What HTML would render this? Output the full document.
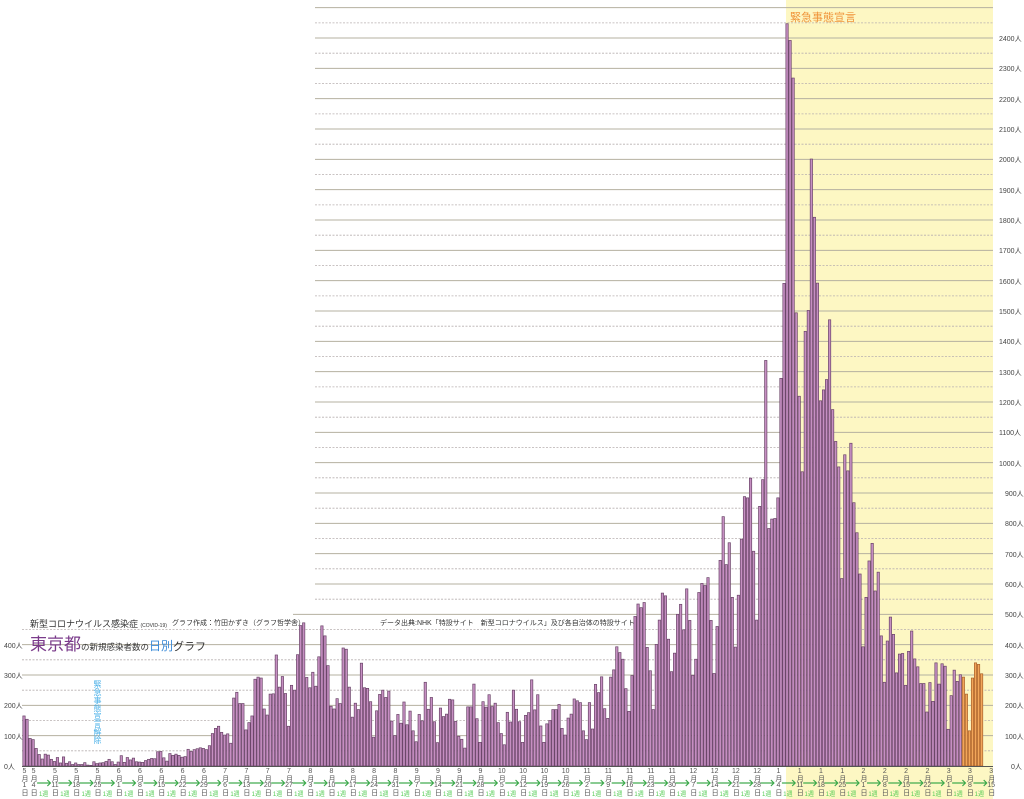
<!DOCTYPE html>
<html><head><meta charset="utf-8">
<style>
html,body{margin:0;padding:0;background:#fff;}
#w{position:relative;width:1024px;height:799px;overflow:hidden;font-family:"Liberation Sans","Noto Sans CJK JP",sans-serif;}
svg{position:absolute;left:0;top:0;}
.yl{position:absolute;font-size:7px;color:#444;white-space:nowrap;}
.d{position:absolute;top:768px;writing-mode:vertical-rl;text-orientation:upright;font-size:7px;line-height:8px;color:#555;transform:translateX(-50%);letter-spacing:0px;}
.d b{font-weight:normal;text-combine-upright:all;}
#wk{position:absolute;left:33px;top:789px;display:flex;}
#wk i{font-style:normal;width:21.28px;text-align:center;font-size:6px;color:#5c5;white-space:nowrap;}
.t{position:absolute;white-space:nowrap;}
</style></head><body><div id="w">
<svg id="s" width="1024" height="799"></svg>

<div class="t" style="left:30px;top:617px;font-size:9px;color:#333;">新型コロナウイルス感染症 <span style="font-size:5px">(COVID-19)</span></div>
<div class="t" style="left:172px;top:618px;font-size:7px;color:#333;">グラフ作成：竹田かずき（グラフ哲学舎）</div>
<div class="t" style="left:380px;top:618px;font-size:7px;color:#333;">データ出典:NHK「特設サイト　新型コロナウイルス」及び各自治体の特設サイト</div>
<div class="t" style="left:30px;top:630px;font-size:17px;color:#7a3a8a;">東京都<span style="font-size:8.5px;color:#333">の新規感染者数の</span><span style="font-size:12px;color:#3a8ad8">日別</span><span style="font-size:11px;color:#333">グラフ</span></div>
<div class="t" style="left:93px;top:680px;font-size:8px;line-height:8px;color:#4ab0e8;writing-mode:vertical-rl;text-orientation:upright;">緊急事態宣言解除</div>
<div class="t" style="left:790px;top:9px;font-size:11px;color:#f0943a;">緊急事態宣言</div>

<div class="yl" style="left:4px;top:762px">0人</div>
<div class="yl" style="left:4px;top:732px">100人</div>
<div class="yl" style="left:4px;top:701px">200人</div>
<div class="yl" style="left:4px;top:671px">300人</div>
<div class="yl" style="left:4px;top:641px">400人</div>

<div class="yl" style="left:1011px;top:762px">0人</div>
<div class="yl" style="left:1005px;top:732px">100人</div>
<div class="yl" style="left:1005px;top:701px">200人</div>
<div class="yl" style="left:1005px;top:671px">300人</div>
<div class="yl" style="left:1005px;top:641px">400人</div>
<div class="yl" style="left:1005px;top:610px">500人</div>
<div class="yl" style="left:1005px;top:580px">600人</div>
<div class="yl" style="left:1005px;top:550px">700人</div>
<div class="yl" style="left:1005px;top:519px">800人</div>
<div class="yl" style="left:1005px;top:489px">900人</div>
<div class="yl" style="left:999px;top:459px">1000人</div>
<div class="yl" style="left:999px;top:428px">1100人</div>
<div class="yl" style="left:999px;top:398px">1200人</div>
<div class="yl" style="left:999px;top:368px">1300人</div>
<div class="yl" style="left:999px;top:337px">1400人</div>
<div class="yl" style="left:999px;top:307px">1500人</div>
<div class="yl" style="left:999px;top:277px">1600人</div>
<div class="yl" style="left:999px;top:246px">1700人</div>
<div class="yl" style="left:999px;top:216px">1800人</div>
<div class="yl" style="left:999px;top:186px">1900人</div>
<div class="yl" style="left:999px;top:155px">2000人</div>
<div class="yl" style="left:999px;top:125px">2100人</div>
<div class="yl" style="left:999px;top:95px">2200人</div>
<div class="yl" style="left:999px;top:64px">2300人</div>
<div class="yl" style="left:999px;top:34px">2400人</div>

<div class="d" style="left:24px">5月<b>1</b>日</div>
<div class="d" style="left:33.1px">5月<b>4</b>日</div>
<div class="d" style="left:54.4px">5月<b>11</b>日</div>
<div class="d" style="left:75.7px">5月<b>18</b>日</div>
<div class="d" style="left:97px">5月<b>25</b>日</div>
<div class="d" style="left:118.2px">6月<b>1</b>日</div>
<div class="d" style="left:139.5px">6月<b>8</b>日</div>
<div class="d" style="left:160.8px">6月<b>15</b>日</div>
<div class="d" style="left:182.1px">6月<b>22</b>日</div>
<div class="d" style="left:203.4px">6月<b>29</b>日</div>
<div class="d" style="left:224.6px">7月<b>6</b>日</div>
<div class="d" style="left:245.9px">7月<b>13</b>日</div>
<div class="d" style="left:267.2px">7月<b>20</b>日</div>
<div class="d" style="left:288.5px">7月<b>27</b>日</div>
<div class="d" style="left:309.8px">8月<b>3</b>日</div>
<div class="d" style="left:331px">8月<b>10</b>日</div>
<div class="d" style="left:352.3px">8月<b>17</b>日</div>
<div class="d" style="left:373.6px">8月<b>24</b>日</div>
<div class="d" style="left:394.9px">8月<b>31</b>日</div>
<div class="d" style="left:416.2px">9月<b>7</b>日</div>
<div class="d" style="left:437.4px">9月<b>14</b>日</div>
<div class="d" style="left:458.7px">9月<b>21</b>日</div>
<div class="d" style="left:480px">9月<b>28</b>日</div>
<div class="d" style="left:501.3px"><b>10</b>月<b>5</b>日</div>
<div class="d" style="left:522.6px"><b>10</b>月<b>12</b>日</div>
<div class="d" style="left:543.8px"><b>10</b>月<b>19</b>日</div>
<div class="d" style="left:565.1px"><b>10</b>月<b>26</b>日</div>
<div class="d" style="left:586.4px"><b>11</b>月<b>2</b>日</div>
<div class="d" style="left:607.7px"><b>11</b>月<b>9</b>日</div>
<div class="d" style="left:629px"><b>11</b>月<b>16</b>日</div>
<div class="d" style="left:650.2px"><b>11</b>月<b>23</b>日</div>
<div class="d" style="left:671.5px"><b>11</b>月<b>30</b>日</div>
<div class="d" style="left:692.8px"><b>12</b>月<b>7</b>日</div>
<div class="d" style="left:714.1px"><b>12</b>月<b>14</b>日</div>
<div class="d" style="left:735.4px"><b>12</b>月<b>21</b>日</div>
<div class="d" style="left:756.6px"><b>12</b>月<b>28</b>日</div>
<div class="d" style="left:777.9px">1月<b>4</b>日</div>
<div class="d" style="left:799.2px">1月<b>11</b>日</div>
<div class="d" style="left:820.5px">1月<b>18</b>日</div>
<div class="d" style="left:841.8px">1月<b>25</b>日</div>
<div class="d" style="left:863px">2月<b>1</b>日</div>
<div class="d" style="left:884.3px">2月<b>8</b>日</div>
<div class="d" style="left:905.6px">2月<b>15</b>日</div>
<div class="d" style="left:926.9px">2月<b>22</b>日</div>
<div class="d" style="left:948.2px">3月<b>1</b>日</div>
<div class="d" style="left:969.4px">3月<b>8</b>日</div>
<div class="d" style="left:990.7px">3月<b>15</b>日</div>

<div id="wk"><i>1週</i><i>1週</i><i>1週</i><i>1週</i><i>1週</i><i>1週</i><i>1週</i><i>1週</i><i>1週</i><i>1週</i><i>1週</i><i>1週</i><i>1週</i><i>1週</i><i>1週</i><i>1週</i><i>1週</i><i>1週</i><i>1週</i><i>1週</i><i>1週</i><i>1週</i><i>1週</i><i>1週</i><i>1週</i><i>1週</i><i>1週</i><i>1週</i><i>1週</i><i>1週</i><i>1週</i><i>1週</i><i>1週</i><i>1週</i><i>1週</i><i>1週</i><i>1週</i><i>1週</i><i>1週</i><i>1週</i><i>1週</i><i>1週</i><i>1週</i><i>1週</i><i>1週</i></div>
</div>
<script>
var D=[165,154,91,87,58,38,23,39,36,22,15,28,10,30,9,14,5,10,5,5,11,3,2,14,8,10,11,15,22,14,5,
13,34,12,28,20,26,14,13,12,18,22,25,24,47,48,27,16,41,35,39,35,29,31,55,48,54,57,60,58,54,
67,107,124,131,111,102,106,75,224,243,206,206,119,143,165,286,293,290,188,168,237,238,366,260,295,239,131,266,250,367,463,
472,292,258,309,263,360,462,429,331,197,188,222,206,389,385,260,161,207,186,339,258,256,212,95,182,236,250,226,247,148,100,
170,141,211,136,181,116,80,170,149,276,187,226,146,77,191,163,171,220,218,147,98,88,59,195,195,270,156,78,212,194,
235,196,207,143,107,70,177,145,250,187,146,78,167,176,284,185,235,132,78,139,150,186,186,203,124,102,158,171,221,215,209,
116,87,209,122,269,242,294,189,157,293,317,393,374,352,255,180,298,493,534,522,539,391,314,186,401,481,570,561,418,311,
372,500,533,449,584,480,299,352,572,602,595,621,480,305,460,678,822,664,736,556,392,563,748,888,884,949,708,481,856,944,1337,
783,814,816,884,1278,1591,2447,2392,2268,1494,1219,970,1433,1502,2001,1809,1592,1204,1240,1274,1471,1175,1070,986,618,1026,973,1064,868,769,633,
393,556,676,734,577,639,429,276,412,491,434,307,369,371,266,378,445,353,327,272,272,178,275,213,340,270,337,329,
121,232,316,279,301,293,237,116,290,340,335,304];
var NS="http://www.w3.org/2000/svg",s=document.getElementById('s');
function el(n,a){var e=document.createElementNS(NS,n);for(var k in a)e.setAttribute(k,a[k]);s.appendChild(e);return e;}
var B=766,K=0.30333,W=3.04;
el('rect',{x:786,y:0,width:207,height:799,fill:'#fdf7c3'});
for(var v=50;v<=2500;v+=50){var y=B-v*K,x0=v<=450?22:(v==500?293:315);
 if(v%100==0)el('line',{x1:x0,x2:993,y1:y,y2:y,stroke:'#b4b0a0','stroke-width':1});
 else el('line',{x1:x0,x2:993,y1:y,y2:y,stroke:'#b8b0b0','stroke-width':0.8,'stroke-dasharray':'2,1.5'});}
for(var i=0;i<D.length;i++){var h=D[i]*K,x=24+W*i-W/2;var o=i>=309;
 el('rect',{x:x+0.35,y:B-h,width:W-0.7,height:h,fill:o?'#f2a65a':'#c68fc2',stroke:o?'#a8602a':'#6a4468','stroke-width':0.7});}
el('line',{x1:22,x2:993,y1:B+0.5,y2:B+0.5,stroke:'#555','stroke-width':1});
for(var j=0;j<45;j++){var a=33.1+21.28*j+4,b=33.1+21.28*(j+1)-4,yy=783;
 el('line',{x1:a,x2:b,y1:yy,y2:yy,stroke:'#3aa84a','stroke-width':1.2});
 el('polyline',{points:(b-3)+','+(yy-3)+' '+b+','+yy+' '+(b-3)+','+(yy+3),fill:'none',stroke:'#3aa84a','stroke-width':1.2});}
</script>
</body></html>
